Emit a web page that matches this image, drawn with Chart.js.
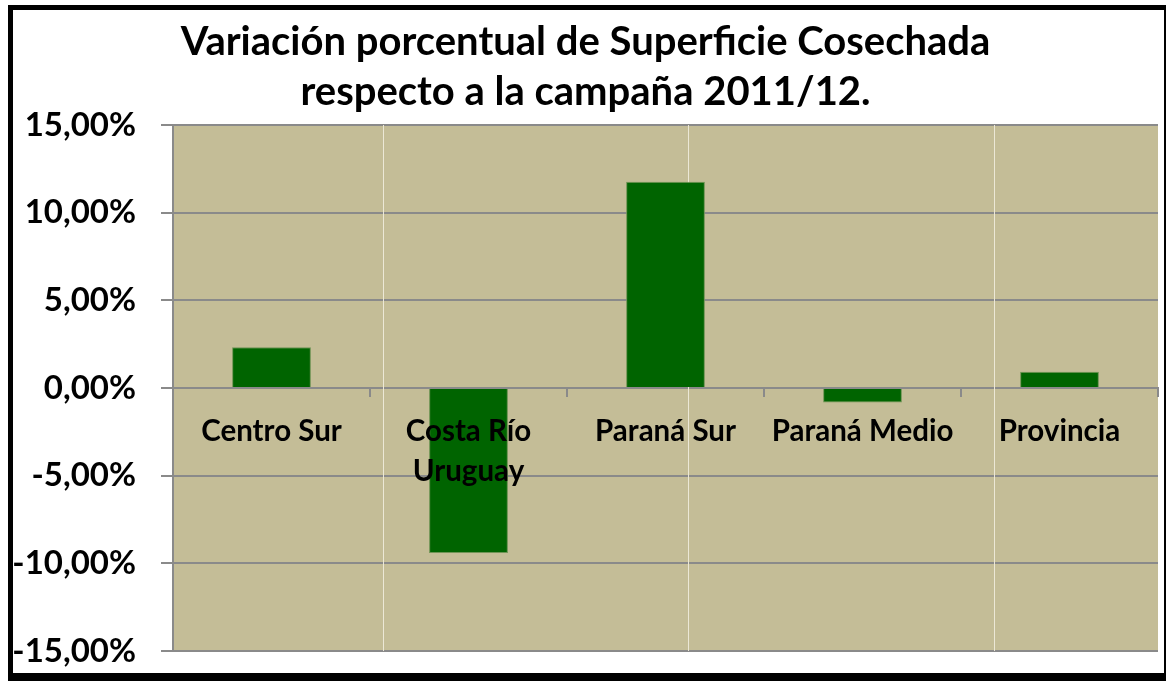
<!DOCTYPE html>
<html>
<head>
<meta charset="utf-8">
<script src="https://cdn.jsdelivr.net/npm/chart.js@4/dist/chart.umd.min.js"></script>
<style>
  html, body { margin: 0; padding: 0; background: #fff; }
  #marco {
    position: absolute; left: 8px; top: 5px; width: 1158px; height: 676px;
    box-sizing: border-box; background: #fff;
    border-left: 5px solid #000; border-top: 5px solid #000;
    border-bottom: 8px solid #000; border-right: 2px solid #000;
  }
  #caja { position: relative; width: 1151px; height: 663px; }
</style>
</head>
<body>
<div id="marco"><div id="caja"><canvas id="grafico"></canvas></div></div>
<script>
// === Datos ===
const regiones = ["Centro Sur", ["Costa Río", "Uruguay"], "Paraná Sur", "Paraná Medio", "Provincia"];
const variacion = [2.32, -9.41, 11.76, -0.82, 0.93];
const marcasY = [-15, -10, -5, 0, 5, 10, 15];
const titulo = ["Variación porcentual de Superficie Cosechada", "respecto a la campaña 2011/12."];

// líneas claras de fondo (cuadrícula de la hoja), en unidades de categoría
const lineasFondo = [0.566, 2.114, 3.668];

const fuente = "Lato, 'Open Sans', sans-serif";
const gris = "#8a8a8a";

const ctx = document.getElementById("grafico").getContext("2d");
const chart = new Chart(ctx, {
  type: "bar",
  data: {
    labels: regiones,
    datasets: [{
      data: variacion,
      backgroundColor: "#006400",
      borderColor: "#6f9455",
      borderWidth: 1,
      barPercentage: 0.4,
      categoryPercentage: 1
    }]
  },
  options: {
    responsive: true,
    maintainAspectRatio: false,
    animation: false,
    layout: { padding: { left: 0, right: 6, top: 0, bottom: 22 } },
    plugins: {
      legend: { display: false },
      tooltip: { enabled: false },
      title: {
        display: true,
        text: titulo,
        color: "#000",
        font: { family: fuente, size: 40, weight: "bold", lineHeight: 1.25 },
        padding: { top: 7, bottom: 8 }
      }
    },
    scales: {
      x: {
        position: { y: 0 },
        afterFit: (s) => { s.height = 0; },
        grid: { offset: true, drawOnChartArea: false, drawTicks: true, tickLength: 8, color: gris, lineWidth: 2 },
        border: { display: true, color: gris, width: 2 },
        ticks: {
          z: 1,
          color: "#000",
          padding: 16,
          maxRotation: 0,
          autoSkip: false,
          font: { family: fuente, size: 29.5, weight: "bold", lineHeight: 1.35 }
        }
      },
      y: {
        min: -15,
        max: 15,
        afterBuildTicks: (s) => { s.ticks = marcasY.map(v => ({ value: v })); },
        afterFit: (s) => { s.width = 160; s.paddingTop = 0; s.paddingBottom = 0; },
        grid: { color: gris, lineWidth: 2, tickLength: 12 },
        border: { display: true, color: gris, width: 2 },
        ticks: {
          color: "#000",
          padding: 25,
          font: { family: fuente, size: 33, weight: "bold" },
          callback: (v) => v.toFixed(2).replace(".", ",") + "%"
        }
      }
    }
  },
  plugins: [{
    id: "fondoArea",
    beforeDraw(c) {
      const a = c.chartArea;
      c.ctx.save();
      c.ctx.fillStyle = "#c4bd97";
      c.ctx.fillRect(a.left, a.top, a.right - a.left, a.bottom - a.top);
      c.ctx.restore();
    },
    beforeDatasetsDraw(c) {
      const a = c.chartArea;
      const s = c.scales.x;
      c.ctx.save();
      c.ctx.strokeStyle = "#ece8d6";
      c.ctx.lineWidth = 1;
      lineasFondo.forEach(v => {
        const px = Math.round(s.getPixelForValue(v)) + 0.5;
        c.ctx.beginPath();
        c.ctx.moveTo(px, a.top);
        c.ctx.lineTo(px, a.bottom);
        c.ctx.stroke();
      });
      c.ctx.restore();
    }
  }]
});
</script>
</body>
</html>
